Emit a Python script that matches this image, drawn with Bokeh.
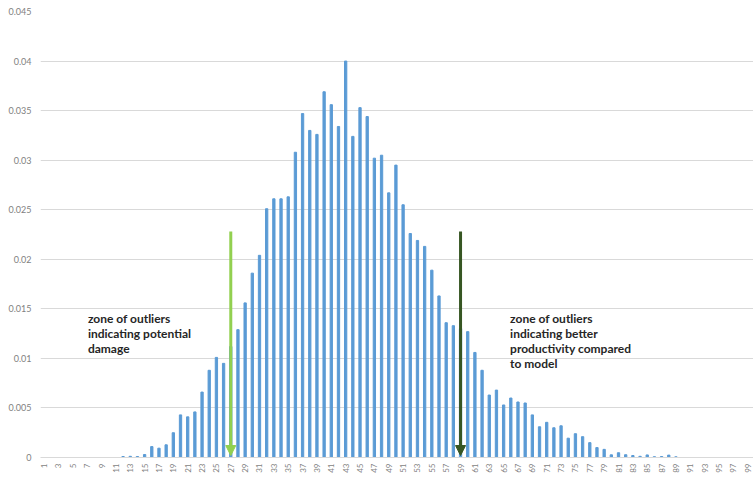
from bokeh.plotting import figure
from bokeh.models import (Range1d, FixedTicker, CustomJSTickFormatter, Arrow,
                          NormalHead, ColumnDataSource)
from bokeh.core.properties import value
from bokeh.embed import file_html
from bokeh.resources import INLINE
import math

# ---- data ----
categories = list(range(1, 100))
probabilities = [
    0, 0, 0, 0, 0, 0, 0, 0, 0, 0,                      # 1-10
    0, 0.0001, 0.00012, 0.0001, 0.0003, 0.0011, 0.00094, 0.00128, 0.0025, 0.0043,   # 11-20
    0.0041, 0.0046, 0.0066, 0.0088, 0.0101, 0.0095, 0.0112, 0.0129, 0.0156, 0.0186, # 21-30
    0.0204, 0.0251, 0.0261, 0.0261, 0.0263, 0.0308, 0.0347, 0.0330, 0.0326, 0.0369, # 31-40
    0.0356, 0.0334, 0.0400, 0.0324, 0.0353, 0.0344, 0.0302, 0.0305, 0.0267, 0.0295, # 41-50
    0.0255, 0.0226, 0.0219, 0.0213, 0.0189, 0.0163, 0.0136, 0.0133, 0.0130, 0.0127, # 51-60
    0.0106, 0.0088, 0.0063, 0.0068, 0.0053, 0.0060, 0.0056, 0.0055, 0.0043, 0.0031, # 61-70
    0.00355, 0.0030, 0.0032, 0.00195, 0.0024, 0.0021, 0.0015, 0.0010, 0.00082, 0.00027, # 71-80
    0.00048, 0.00028, 0.0002, 0.00012, 0.00026, 0.00008, 0.0001, 0.00024, 0.00007, 0,  # 81-90
    0, 0, 0, 0, 0, 0, 0, 0, 0,                          # 91-99
]
y_ticks = [0, 0.005, 0.01, 0.015, 0.02, 0.025, 0.03, 0.035, 0.04, 0.045]
x_tick_labels = list(range(1, 100, 2))

arrow_categories = [27, 59]
arrow_top = 0.0228
arrow_bottom = 0.0002
arrow_colors = ["#92D050", "#375623"]

left_note = ["zone of outliers", "indicating potential", "damage"]
right_note = ["zone of outliers", "indicating better", "productivity compared", "to model"]

# ---- figure ----
p = figure(width=753, height=480, output_backend="svg", toolbar_location=None,
           x_range=Range1d(0.5, 99.8), y_range=Range1d(0, 0.045),
           min_border_left=40, min_border_right=0, min_border_top=11,
           min_border_bottom=23)
p.outline_line_color = None
p.background_fill_color = "white"
p.border_fill_color = "white"

p.vbar(x=categories, top=probabilities, width=0.32, color="#5B9BD5")

# axes
p.xgrid.grid_line_color = None
p.ygrid.grid_line_color = "#D9D9D9"
p.ygrid.grid_line_width = 1

p.yaxis.ticker = FixedTicker(ticks=y_ticks)
p.yaxis.formatter = CustomJSTickFormatter(code="return tick.toString();")
p.yaxis.axis_line_color = None
p.yaxis.major_tick_line_color = None
p.yaxis.minor_tick_line_color = None
p.yaxis.major_tick_out = 0
p.yaxis.major_tick_in = 0
p.yaxis.major_label_standoff = 9
p.yaxis.major_label_text_font = "Lato"
p.yaxis.major_label_text_font_size = "9px"
p.yaxis.major_label_text_color = "#7F7F7F"

p.xaxis.ticker = FixedTicker(ticks=x_tick_labels)
p.xaxis.axis_line_color = "#D9D9D9"
p.xaxis.major_tick_line_color = None
p.xaxis.minor_tick_line_color = None
p.xaxis.major_tick_out = 0
p.xaxis.major_tick_in = 0
p.xaxis.major_label_orientation = math.pi / 2
p.xaxis.major_label_standoff = 6
p.xaxis.major_label_text_font = "Lato"
p.xaxis.major_label_text_font_size = "8px"
p.xaxis.major_label_text_color = "#7F7F7F"

# arrows
for xc, col in zip(arrow_categories, arrow_colors):
    p.add_layout(Arrow(end=NormalHead(size=10, fill_color=col, line_color=col, line_width=1),
                       x_start=xc, y_start=arrow_top, x_end=xc, y_end=arrow_bottom,
                       line_color=col, line_width=3))

# annotations
line_step = 0.00152
first_line_y = 0.0140
left_x = 7.1
right_x = 65.9
tx, ty, tt = [], [], []
for i, t in enumerate(left_note):
    tx.append(left_x); ty.append(first_line_y - i * line_step); tt.append(t)
for i, t in enumerate(right_note):
    tx.append(right_x); ty.append(first_line_y - i * line_step); tt.append(t)
src = ColumnDataSource(dict(x=tx, y=ty, text=tt))
p.text(x="x", y="y", text="text", source=src, text_font=value("Lato"),
       text_font_style="bold", text_font_size="12px", text_color="#262626",
       text_align="left", text_baseline="middle")

open("out.html", "w").write(file_html(p, INLINE))
